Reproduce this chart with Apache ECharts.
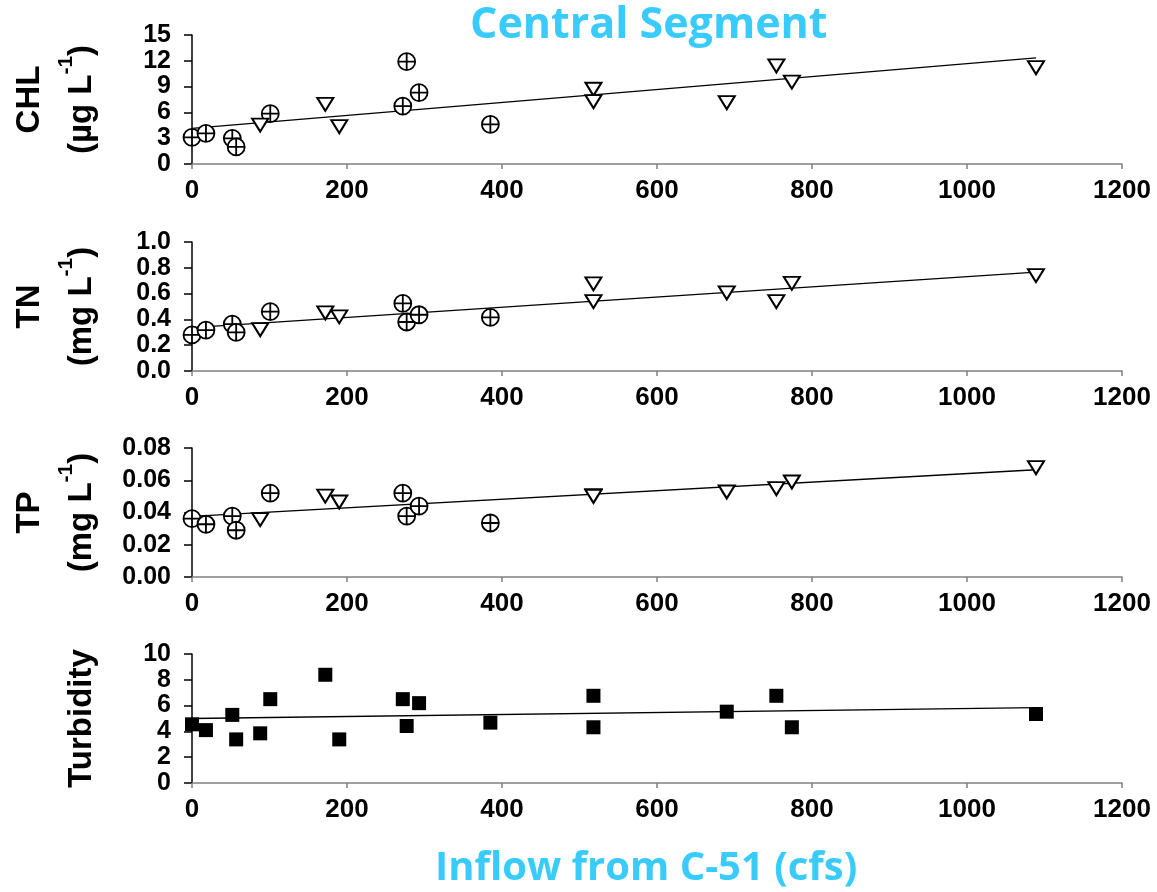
<!DOCTYPE html>
<html>
<head>
<meta charset="utf-8">
<script src="https://cdn.jsdelivr.net/npm/echarts@6/dist/echarts.min.js"></script>
<style>
html, body { margin: 0; background: #fff; }
#chart { width: 1157px; height: 892px; }
</style>
</head>
<body>
<div id="chart"></div>
<script>
// inflow (cfs) for the two symbol groups
var flowCircle = [0, 18, 52, 57, 101, 272, 277, 293, 385];
var flowTriangle = [88, 172, 190, 518, 518, 690, 754, 774, 1089];

var chlCircle = [3.1, 3.57, 2.99, 1.98, 5.85, 6.74, 11.9, 8.3, 4.6];
var chlTriangle = [4.53, 6.94, 4.34, 8.69, 7.25, 7.13, 11.4, 9.53, 11.2];

var tnCircle = [0.28, 0.317, 0.364, 0.30, 0.46, 0.525, 0.38, 0.436, 0.415];
var tnTriangle = [0.32, 0.45, 0.42, 0.676, 0.538, 0.605, 0.538, 0.68, 0.74];

var tpCircle = [0.0362, 0.0327, 0.0378, 0.029, 0.052, 0.052, 0.0378, 0.044, 0.0335];
var tpTriangle = [0.0356, 0.0502, 0.0465, 0.0505, 0.050, 0.0527, 0.0548, 0.0589, 0.0678];

// turbidity, all squares
var flowAll = [0, 18, 52, 57, 88, 101, 172, 190, 272, 277, 293, 385, 518, 518, 690, 754, 774, 1089];
var turbidity = [4.55, 4.1, 5.28, 3.38, 3.85, 6.5, 8.39, 3.38, 6.5, 4.42, 6.19, 4.68, 6.76, 4.32, 5.53, 6.76, 4.32, 5.35];

// trend lines (end points)
var fitX = [0, 1089];
var chlFit = [4.15, 12.35];
var tnFit = [0.337, 0.766];
var tpFit = [0.0376, 0.0665];
var turbFit = [5.0, 5.85];

var xTicks = { min: 0, max: 1200, interval: 200 };
var yScales = [
    { min: 0, max: 15, interval: 3, digits: 0 },
    { min: 0, max: 1, interval: 0.2, digits: 1 },
    { min: 0, max: 0.08, interval: 0.02, digits: 2 },
    { min: 0, max: 10, interval: 2, digits: 0 }
];
var yNames = [
    '{a|CHL}\n{b|(µg L}{s|-1}{b|)}',
    '{a|TN}\n{b|(mg L}{s|-1}{b|)}',
    '{a|TP}\n{b|(mg L}{s|-1}{b|)}',
    '{b|Turbidity}'
];

var FONT = 'Liberation Sans, Arial, sans-serif';
var BLUE = '#38cbfb';
var circlePlus = 'path://M1,11 A10,10 0 1,1 21,11 A10,10 0 1,1 1,11 Z M11,1 L11,21 M1,11 L21,11';

function pairs(xs, ys) {
    var out = [];
    for (var i = 0; i < xs.length; i++) out.push([xs[i], ys[i]]);
    return out;
}

var gridTops = [35, 242, 448, 654];
var grids = gridTops.map(function (t) {
    return { left: 192, right: 35, top: t, height: 129 };
});

var xAxes = grids.map(function (g, i) {
    return {
        type: 'value', gridIndex: i,
        min: xTicks.min, max: xTicks.max, interval: xTicks.interval,
        axisLine: { onZero: false, lineStyle: { color: '#808080', width: 1.5 } },
        axisTick: { length: 5, lineStyle: { color: '#808080', width: 1.5 } },
        splitLine: { show: false },
        axisLabel: {
            color: '#000', fontFamily: FONT, fontWeight: 'bold', fontSize: 26, margin: 14,
            formatter: function (v) { return String(v); }
        }
    };
});

var yAxes = yScales.map(function (s, i) {
    return {
        type: 'value', gridIndex: i,
        min: s.min, max: s.max, interval: s.interval,
        axisLine: { show: true, lineStyle: { color: '#000', width: 1.5 } },
        axisTick: { show: true, length: 8, lineStyle: { color: '#000', width: 1.5 } },
        splitLine: { show: false },
        axisLabel: {
            color: '#000', fontFamily: FONT, fontWeight: 'bold', fontSize: 25, margin: 21,
            formatter: function (v) { return v.toFixed(s.digits); }
        },
        name: yNames[i],
        nameLocation: 'middle',
        nameRotate: 90,
        nameGap: 84,
        nameTextStyle: {
            color: '#000', fontFamily: FONT, fontWeight: 'bold', fontSize: 33,
            rich: {
                a: { fontFamily: FONT, fontWeight: 'bold', fontSize: 33, lineHeight: 52 },
                b: { fontFamily: FONT, fontWeight: 'bold', fontSize: 33, lineHeight: 52 },
                s: { fontFamily: FONT, fontWeight: 'bold', fontSize: 21, lineHeight: 36, verticalAlign: 'top' }
            }
        }
    };
});

function fitLine(i, ys) {
    return {
        type: 'line', xAxisIndex: i, yAxisIndex: i,
        data: pairs(fitX, ys), symbol: 'none', silent: true,
        lineStyle: { color: '#000', width: 1.3 }, z: 1
    };
}
function circles(i, ys) {
    return {
        type: 'scatter', xAxisIndex: i, yAxisIndex: i, data: pairs(flowCircle, ys),
        symbol: circlePlus, symbolSize: 17,
        itemStyle: { color: '#fff', borderColor: '#000', borderWidth: 1.8, opacity: 1 }, z: 3
    };
}
function triangles(i, ys) {
    return {
        type: 'scatter', xAxisIndex: i, yAxisIndex: i, data: pairs(flowTriangle, ys),
        symbol: 'triangle', symbolRotate: 180, symbolSize: [16, 13],
        itemStyle: { color: '#fff', borderColor: '#000', borderWidth: 2, opacity: 1 }, z: 3
    };
}

var series = [
    fitLine(0, chlFit), circles(0, chlCircle), triangles(0, chlTriangle),
    fitLine(1, tnFit), circles(1, tnCircle), triangles(1, tnTriangle),
    fitLine(2, tpFit), circles(2, tpCircle), triangles(2, tpTriangle),
    fitLine(3, turbFit),
    {
        type: 'scatter', xAxisIndex: 3, yAxisIndex: 3, data: pairs(flowAll, turbidity),
        symbol: 'rect', symbolSize: 14, itemStyle: { color: '#000', opacity: 1 }, z: 3
    }
];

var chart = echarts.init(document.getElementById('chart'));
chart.setOption({
    animation: false,
    backgroundColor: '#fff',
    grid: grids,
    xAxis: xAxes,
    yAxis: yAxes,
    series: series,
    graphic: [
        {
            type: 'text', left: 470, top: 4,
            style: { text: 'Central Segment', fill: BLUE, font: 'bold 43px "Open Sans", sans-serif' }
        },
        {
            type: 'text', left: 435, top: 849,
            style: { text: 'Inflow from C-51 (cfs)', fill: BLUE, font: 'bold 40px "Open Sans", sans-serif' }
        }
    ]
});
</script>
</body>
</html>
